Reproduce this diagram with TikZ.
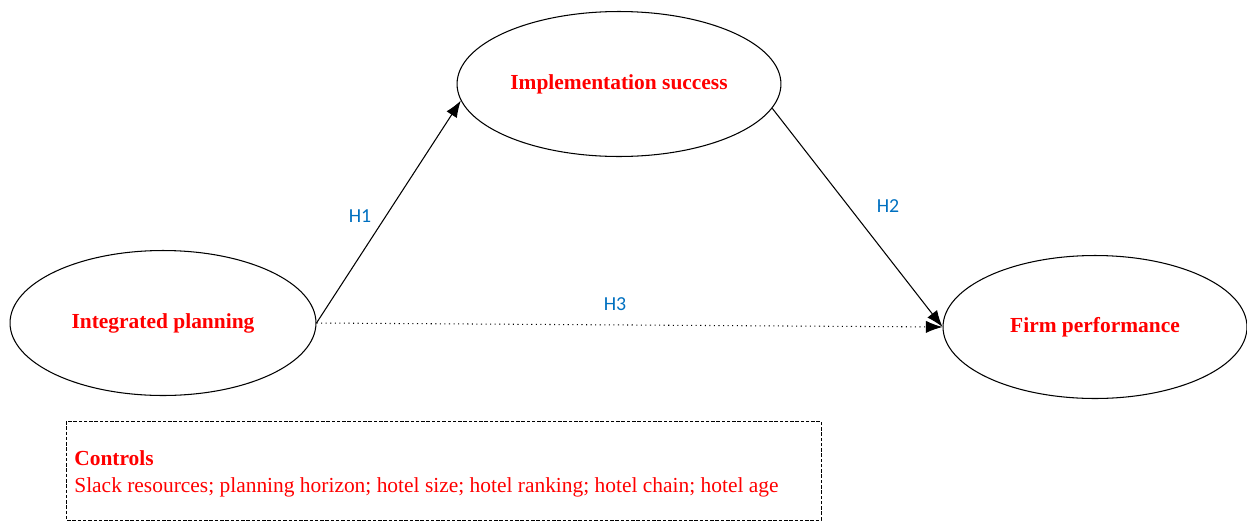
\documentclass[tikz,border=0pt]{standalone}
\usepackage{fontspec}
\setmainfont{Liberation Serif}
\newfontfamily\labelfont{Carlito}
\usetikzlibrary{shapes.geometric,arrows.meta}
\definecolor{hblue}{RGB}{0,112,192}
\tikzset{
	construct/.style={ellipse, draw, line width=0.6pt, text=red, font=\fontsize{12.2}{14}\selectfont\bfseries},
	hlabel/.style={text=hblue, font=\labelfont\fontsize{11.3}{13}\selectfont},
	path/.style={line width=0.6pt, -{Latex[length=9.5pt,width=7pt]}},
}
\begin{document}
\begin{tikzpicture}[x=0.02cm, y=-0.02cm, line join=round]
	\useasboundingbox (0,0) rectangle (1247,521);
	\node[construct, minimum width=6.4cm, minimum height=2.9cm] (impl) at (619,84) {Implementation success};
	\node[construct, minimum width=6.12cm, minimum height=2.9cm] (plan) at (163,323) {Integrated planning};
	\node[construct, minimum width=6.08cm, minimum height=2.86cm] (perf) at (1095,327) {Firm performance};
	\draw[path] (plan.east) -- (impl.186);
	\draw[path] (impl.-9) -- (perf.west);
	\draw[path, dotted] (plan.east) -- (perf.west);
	\node[hlabel] (h1) at (360,216) {H1};
	\node[hlabel] (h2) at (888,206) {H2};
	\node[hlabel] (h3) at (615,304) {H3};
	% controls
	\draw[dash pattern=on 2pt off 1pt, line width=0.5pt] (66,421) rectangle (821,520);
	\node[anchor=base west, inner sep=0pt, text=red, font=\fontsize{12.2}{14}\selectfont\bfseries] (ctrl) at (74,465) {Controls};
	\node[anchor=base west, inner sep=0pt, text=red, font=\fontsize{12.2}{14}\selectfont] (ctrllist) at (74,492) {Slack resources; planning horizon; hotel size; hotel ranking; hotel chain; hotel age};
\end{tikzpicture}
\end{document}
